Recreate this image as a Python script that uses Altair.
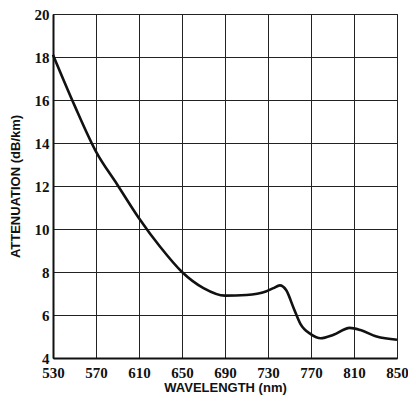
import altair as alt
import pandas as pd

wavelength = [530, 550, 570, 590, 610, 630, 650, 670, 690, 710, 728, 735, 741, 747, 754, 760,
              770, 779, 791, 806, 816, 831, 850]
attenuation = [18.1, 15.75, 13.6, 12.05, 10.5, 9.15, 8.0, 7.25, 6.9, 6.93, 7.09, 7.25, 7.38, 7.15,
               6.3, 5.6, 5.1, 4.92, 5.08, 5.4, 5.3, 5.0, 4.85]

x_ticks = [530, 570, 610, 650, 690, 730, 770, 810, 850]
y_ticks = [4, 6, 8, 10, 12, 14, 16, 18, 20]

df = pd.DataFrame({"wl": wavelength, "att": attenuation})

chart = alt.Chart(df).mark_line(color="#111111", strokeWidth=2.6, interpolate="monotone").encode(
    x=alt.X("wl:Q", scale=alt.Scale(domain=[530, 850], nice=False, zero=False),
            axis=alt.Axis(values=x_ticks, title="WAVELENGTH (nm)", labelPadding=7,
                          titlePadding=1, labelFlush=False)),
    y=alt.Y("att:Q", scale=alt.Scale(domain=[4, 20], nice=False, zero=False),
            axis=alt.Axis(values=y_ticks, title="ATTENUATION (dB/km)", labelPadding=4,
                          titlePadding=12, labelFlush=False)),
).properties(
    width=344, height=344,
    autosize=alt.AutoSizeParams(type="none"),
    padding={"left": 45, "top": 6, "right": 11, "bottom": 37},
).configure_view(
    stroke="#222222", strokeWidth=1
).configure_axis(
    domainColor="#111111", domainWidth=2,
    gridColor="#222222", gridWidth=1, gridOpacity=1,
    ticks=False,
    labelFont="Liberation Sans Narrow", labelFontWeight="bold", labelFontSize=15, labelColor="#111111",
    titleFont="Liberation Sans", titleFontWeight="bold", titleFontSize=13, titleColor="#111111",
)

chart.save("out.html", embed_options={"renderer": "svg", "actions": False})
